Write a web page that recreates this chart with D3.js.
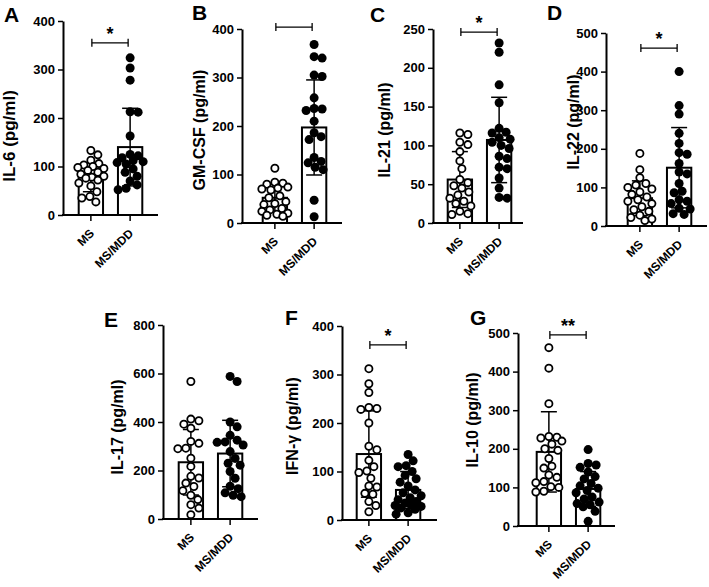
<!doctype html>
<meta charset="utf-8">

<style>
    body {
        margin: 0;
        background: #fff;
    }
    text {
        font-family: "Liberation Sans", Arial, sans-serif;
        font-weight: bold;
        fill: #000;
    }
</style>

<div id="chart"></div>

<script src="https://d3js.org/d3.v7.min.js"></script>

<script>

// ---- data ----
let categories = ["MS", "MS/MDD"]
let cytokines = ["IL-6", "GM-CSF", "IL-21", "IL-22", "IL-17", "IFN-γ", "IL-10"]
let panelLetters = ["A", "B", "C", "D", "E", "F", "G"]
let yMax = [400, 400, 250, 500, 800, 400, 500]
let yStep = [100, 100, 50, 100, 200, 100, 100]

let msMean = [78, 52, 56, 72, 234, 136, 192]
let msSD = [30, 28, 36, 45, 135, 89, 104]
let mddMean = [140, 197, 107, 151, 270, 62, 96]
let mddSD = [80, 98, 55, 104, 137, 38, 45]

let sigLabel = ["*", "", "*", "*", null, "*", "**"]
let sigLevel = [355, 404, 246, 461, null, 361, 495]

let il6MS = [133, 124, 113, 106, 103, 100, 98, 96, 92, 88, 84, 80, 78, 76, 72, 66, 60, 48, 38, 35, 27]
let il6MDD = [324, 303, 278, 213, 212, 163, 125, 122, 118, 112, 110, 108, 105, 95, 88, 80, 70, 62, 55, 52]
let gmcsfMS = [113, 84, 82, 80, 74, 72, 70, 68, 56, 52, 44, 40, 38, 30, 27, 24, 20, 18, 16, 14]
let gmcsfMDD = [368, 343, 340, 305, 302, 258, 236, 235, 232, 210, 186, 178, 172, 135, 127, 124, 115, 110, 47, 13]
let il21MS = [116, 114, 104, 101, 92, 80, 70, 56, 52, 48, 45, 40, 36, 32, 28, 25, 22, 15, 12, 11]
let il21MDD = [232, 220, 178, 155, 122, 117, 116, 110, 108, 104, 100, 96, 86, 83, 72, 70, 58, 45, 33, 32]
let il22MS = [188, 146, 125, 110, 106, 100, 96, 88, 82, 75, 68, 64, 58, 50, 42, 38, 28, 22, 18, 14]
let il22MDD = [400, 312, 290, 240, 214, 190, 186, 162, 140, 135, 110, 90, 86, 68, 64, 58, 46, 44, 32, 30]
let il17MS = [567, 412, 405, 391, 374, 320, 312, 292, 290, 251, 217, 176, 169, 148, 134, 117, 98, 80, 59, 45, 18]
let il17MDD = [588, 567, 400, 380, 345, 325, 318, 316, 305, 278, 250, 230, 222, 196, 168, 135, 125, 108, 98, 92]
let ifngMS = [312, 281, 263, 232, 230, 228, 200, 152, 145, 123, 110, 101, 98, 86, 70, 68, 55, 53, 38, 30, 17]
let ifngMDD = [135, 122, 112, 110, 100, 92, 85, 78, 70, 62, 56, 50, 46, 42, 38, 35, 32, 30, 28, 25, 22, 15, 12]
let il10MS = [462, 409, 317, 232, 230, 228, 220, 212, 200, 196, 175, 155, 150, 132, 126, 115, 112, 102, 100, 90, 88]
let il10MDD = [198, 162, 158, 152, 140, 128, 122, 110, 104, 98, 92, 86, 75, 70, 62, 58, 55, 50, 38, 12]

let msPoints = [il6MS, gmcsfMS, il21MS, il22MS, il17MS, ifngMS, il10MS]
let mddPoints = [il6MDD, gmcsfMDD, il21MDD, il22MDD, il17MDD, ifngMDD, il10MDD]

// ---- where each panel sits ----
let layout = [
    {ax: 63,  top: 21,  bot: 215, xEnd: 158, b0: 63,  lx: 4,   ly: 22,  tx: 9,   ty: 136, ts: 17},
    {ax: 242, top: 29,  bot: 223, xEnd: 342, b0: 247, lx: 192, ly: 20,  tx: 199, ty: 130, ts: 16},
    {ax: 433, top: 29,  bot: 223, xEnd: 523, b0: 432, lx: 370, ly: 22,  tx: 384, ty: 130, ts: 16},
    {ax: 606, top: 33,  bot: 226, xEnd: 707, b0: 612, lx: 547, ly: 20,  tx: 573, ty: 122, ts: 16},
    {ax: 163, top: 325, bot: 519, xEnd: 258, b0: 163, lx: 104, ly: 327, tx: 117, ty: 427, ts: 16},
    {ax: 342, top: 326, bot: 520, xEnd: 437, b0: 341, lx: 285, ly: 325, tx: 292, ty: 426, ts: 16},
    {ax: 518, top: 333, bot: 526, xEnd: 615, b0: 521, lx: 470, ly: 325, tx: 472, ty: 420, ts: 16}
]

let svg = d3.select("#chart")
    .append("svg")
    .attr("width", 709)
    .attr("height", 587)

svg.append("rect").attr("width", 709).attr("height", 587).attr("fill", "#fff")

let dotR = 4.5

// simple deterministic dodge so dots sit side by side like in Prism
function swarm(ys, maxOff, minDist){
    let order = d3.range(ys.length).sort((a, b) => ys[a] - ys[b])
    let placed = []
    let xs = new Array(ys.length)
    let cands = [0]
    for(let o = 1; o <= maxOff; o++) cands.push(o, -o)
    order.forEach(i => {
        let best = 0, bestScore = -1
        for(let c of cands){
            let m = d3.min(placed, p => Math.hypot(p[0] - c, p[1] - ys[i]))
            if(m === undefined || m >= minDist){ best = c; bestScore = Infinity; break }
            if(m > bestScore){ bestScore = m; best = c }
        }
        xs[i] = best
        placed.push([best, ys[i]])
    })
    return xs
}

layout.forEach((L, k) => {
    let g = svg.append("g")

    let y = d3.scaleLinear().domain([0, yMax[k]]).range([L.bot, L.top])
    let x = d3.scaleBand()
        .domain(categories)
        .range([L.b0, L.b0 + 95])
        .paddingInner(0.38)
        .paddingOuter(0.4)
    let cx = c => x(c) + x.bandwidth() / 2

    let groups = [
        {cat: categories[0], mean: msMean[k], sd: msSD[k], pts: msPoints[k], filled: false},
        {cat: categories[1], mean: mddMean[k], sd: mddSD[k], pts: mddPoints[k], filled: true}
    ]

    // bars
    g.selectAll("rect.bar")
        .data(groups)
        .join("rect")
        .attr("class", "bar")
        .attr("x", d => x(d.cat))
        .attr("width", x.bandwidth())
        .attr("y", d => y(d.mean))
        .attr("height", d => y(0) - y(d.mean))
        .attr("fill", "#fff")
        .attr("stroke", "#000")
        .attr("stroke-width", 2)

    // error bars (mean +/- SD)
    groups.forEach(d => {
        let hi = y(d.mean + d.sd), lo = y(Math.max(0, d.mean - d.sd))
        let eg = g.append("g").attr("stroke", "#000").attr("stroke-width", 1.5)
        eg.append("line").attr("x1", cx(d.cat)).attr("x2", cx(d.cat)).attr("y1", hi).attr("y2", lo)
        eg.append("line").attr("x1", cx(d.cat) - 8).attr("x2", cx(d.cat) + 8).attr("y1", hi).attr("y2", hi)
        eg.append("line").attr("x1", cx(d.cat) - 8).attr("x2", cx(d.cat) + 8).attr("y1", lo).attr("y2", lo)
    })

    // dots
    groups.forEach(d => {
        let ys = d.pts.map(v => y(v))
        let xs = swarm(ys, 13, 8)
        g.append("g")
            .selectAll("circle")
            .data(d.pts)
            .join("circle")
            .attr("cx", (v, i) => cx(d.cat) + xs[i])
            .attr("cy", v => y(v))
            .attr("r", d.filled ? dotR : dotR - 0.9)
            .attr("fill", d.filled ? "#000" : "#fff")
            .attr("stroke", "#000")
            .attr("stroke-width", d.filled ? 0 : 1.8)
    })

    // y axis
    let yAxis = d3.axisLeft(y)
        .tickValues(d3.range(0, yMax[k] + 1, yStep[k]))
        .tickSize(5)
        .tickSizeOuter(0)
        .tickPadding(3)
    let ya = g.append("g")
        .attr("transform", "translate(" + L.ax + ",0)")
        .call(yAxis)
    ya.select(".domain").attr("stroke-width", 2)
    ya.selectAll(".tick line").attr("stroke-width", 1.5)
    ya.selectAll("text").style("font-size", "13px").attr("fill", "#000")

    // x axis: line, ticks, slanted labels
    g.append("line")
        .attr("x1", L.ax - 1).attr("x2", L.xEnd)
        .attr("y1", L.bot).attr("y2", L.bot)
        .attr("stroke", "#000").attr("stroke-width", 2)
    g.selectAll("line.xtick")
        .data(categories)
        .join("line")
        .attr("class", "xtick")
        .attr("x1", cx).attr("x2", cx)
        .attr("y1", L.bot).attr("y2", L.bot + 6)
        .attr("stroke", "#000").attr("stroke-width", 1.5)
    g.selectAll("g.xlab")
        .data(categories)
        .join("g")
        .attr("class", "xlab")
        .attr("transform", c => "translate(" + (cx(c) + 4) + "," + (L.bot + 19) + ") rotate(-45)")
        .append("text")
        .style("text-anchor", "end")
        .style("font-size", "12px")
        .text(c => c)

    // y title
    g.append("text")
        .attr("transform", "translate(" + L.tx + "," + L.ty + ") rotate(-90)")
        .attr("dy", "0.35em")
        .style("text-anchor", "middle")
        .style("font-size", L.ts + "px")
        .text(cytokines[k] + " (pg/ml)")

    // panel letter
    g.append("text")
        .attr("x", L.lx).attr("y", L.ly)
        .style("font-size", "21px")
        .text(panelLetters[k])

    // significance bracket
    if(sigLabel[k] !== null){
        let x1 = cx(categories[0]) + 1
        let x2 = cx(categories[1]) - 2
        let by = y(sigLevel[k])
        let sg = g.append("g").attr("stroke", "#000").attr("stroke-width", 1.3)
        sg.append("line").attr("x1", x1).attr("x2", x2).attr("y1", by).attr("y2", by)
        sg.append("line").attr("x1", x1).attr("x2", x1).attr("y1", by - 4).attr("y2", by + 4)
        sg.append("line").attr("x1", x2).attr("x2", x2).attr("y1", by - 4).attr("y2", by + 4)
        g.append("text")
            .attr("x", (x1 + x2) / 2)
            .attr("y", by - 3)
            .style("text-anchor", "middle")
            .style("font-size", "18px")
            .text(sigLabel[k])
    }
})

</script>
